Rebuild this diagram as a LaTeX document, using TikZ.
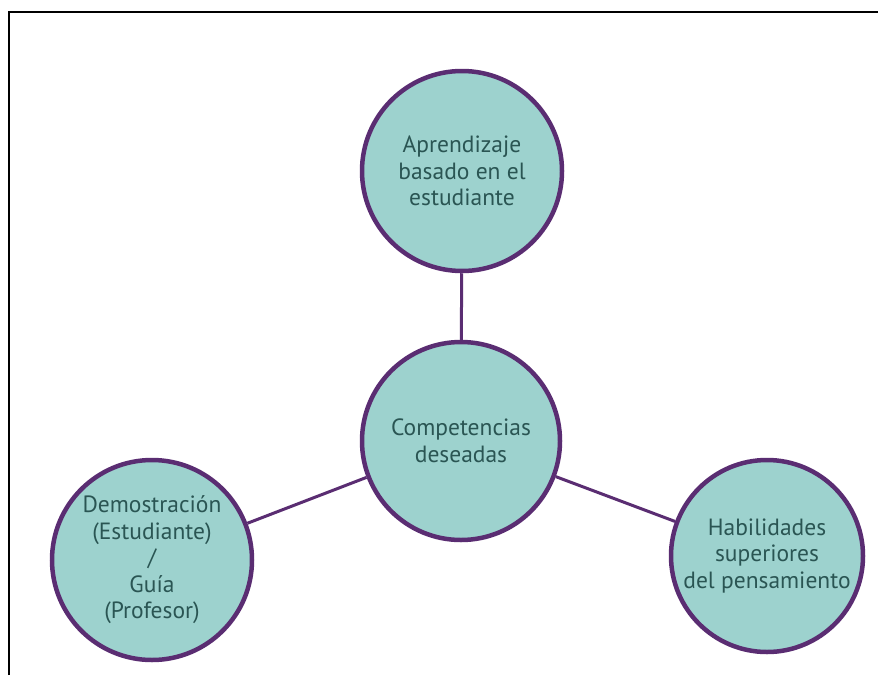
\documentclass[tikz,border=0pt]{standalone}
\usepackage{fontspec}
\setmainfont{PT Sans}
\definecolor{fillteal}{HTML}{9DD2CE}
\definecolor{ringpurple}{HTML}{5A2D72}
\definecolor{txt}{HTML}{2A5553}
\begin{document}
\begin{tikzpicture}[x=1pt,y=-1pt,
  bubble/.style={circle, draw=ringpurple, line width=4.5pt, fill=fillteal,
    minimum size=#1, inner sep=0pt, align=center, text=txt,
    font=\fontsize{23.5}{26.5}\selectfont},
  link/.style={draw=ringpurple, line width=3pt}]
\useasboundingbox (0,0) rectangle (878,675);
\draw[line width=1.5pt] (9,675) -- (9,12) -- (878,12);
\node[bubble=200pt] (top) at (462,171) {Aprendizaje\\basado en el\\estudiante};
\node[bubble=198pt] (mid) at (461,441) {Competencias\\deseadas};
\node[bubble=200pt] (lft) at (152,560) {Demostración\\(Estudiante)\\/\\Guía\\(Profesor)};
\node[bubble=192pt] (rgt) at (767,556) {Habilidades\\superiores\\del pensamiento};
\draw[link] (top) -- (mid);
\draw[link] (mid) -- (lft);
\draw[link] (mid) -- (rgt);
\end{tikzpicture}
\end{document}
